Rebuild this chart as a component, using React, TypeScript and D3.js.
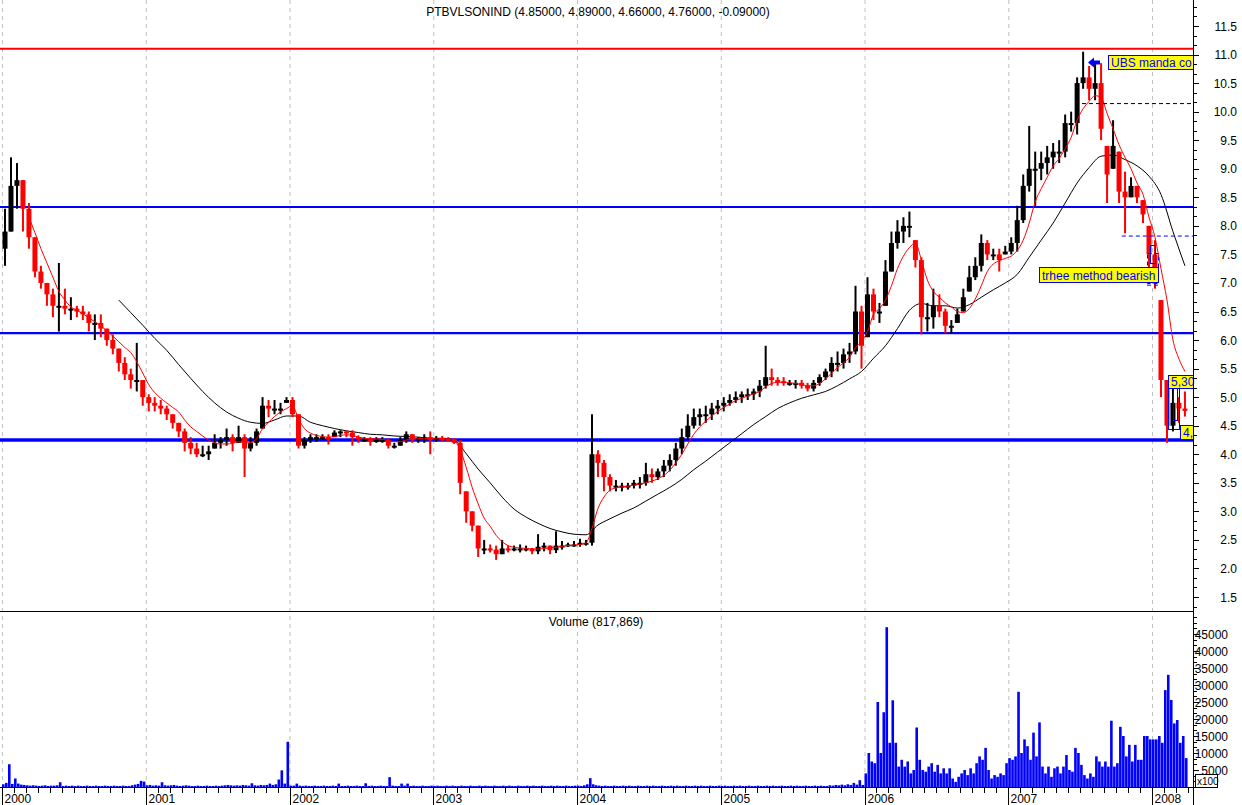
import React from 'react';
import * as d3 from 'd3';

// ---------- DATA (semi-monthly periods starting Jan 2000) ----------
const PERIODS_PER_YEAR = 24;
const START_YEAR = 2000;
const END_YEAR = 2008;
const TITLE = 'PTBVLSONIND (4.85000, 4.89000, 4.66000, 4.76000, -0.09000)';
const VOL_TITLE = 'Volume (817,869)';
const YEAR_LABELS = ['2000', '2001', '2002', '2003', '2004', '2005', '2006', '2007', '2008'];
const PRICE_TICKS = [1.5, 2.0, 2.5, 3.0, 3.5, 4.0, 4.5, 5.0, 5.5, 6.0, 6.5, 7.0, 7.5, 8.0, 8.5, 9.0, 9.5, 10.0, 10.5, 11.0, 11.5];
const VOL_TICKS = [5000, 10000, 15000, 20000, 25000, 30000, 35000, 40000, 45000];

const high = [
  8.3, 9.2, 9.1, 8.8, 8.4, 7.8, 7.3, 7.0, 6.9, 7.35, 6.9, 6.75, 6.6, 6.6, 6.5, 6.45, 6.45, 6.2, 6.1, 5.85, 5.7, 5.5, 5.95, 5.3,
  5.05, 5.0, 4.95, 4.85, 4.7, 4.55, 4.45, 4.3, 4.2, 4.15, 4.15, 4.35, 4.3, 4.45, 4.35, 4.5, 4.35, 4.3, 4.45, 5.0, 4.95, 4.95, 4.9, 5.0,
  5.0, 4.7, 4.3, 4.35, 4.35, 4.35, 4.35, 4.42, 4.42, 4.42, 4.42, 4.33, 4.3, 4.3, 4.3, 4.3, 4.27, 4.2, 4.3, 4.4, 4.35, 4.3, 4.35, 4.4,
  4.32, 4.32, 4.3, 4.28, 4.25, 3.35, 3.0, 2.75, 2.5, 2.42, 2.4, 2.5, 2.4, 2.4, 2.42, 2.4, 2.36, 2.6, 2.45, 2.4, 2.65, 2.48, 2.45, 2.48,
  2.52, 2.5, 4.7, 4.07, 3.9, 3.65, 3.55, 3.5, 3.5, 3.55, 3.6, 3.85, 3.75, 3.75, 3.9, 4.0, 4.2, 4.45, 4.7, 4.8, 4.8, 4.85, 4.9, 4.95,
  5.0, 5.05, 5.1, 5.1, 5.15, 5.15, 5.3, 5.9, 5.5, 5.35, 5.35, 5.3, 5.3, 5.3, 5.25, 5.3, 5.4, 5.5, 5.7, 5.8, 5.85, 5.95, 6.95, 6.6,
  7.1, 6.9, 6.65, 7.4, 7.9, 8.1, 8.15, 8.25, 7.75, 7.45, 6.65, 6.9, 6.8, 6.55, 6.35, 6.55, 6.9, 7.3, 7.45, 7.85, 7.75, 7.6, 7.6, 7.65,
  7.8, 8.35, 8.9, 9.75, 9.3, 9.3, 9.4, 9.45, 9.5, 9.95, 10.0, 10.6, 11.05, 10.8, 10.85, 10.85, 9.4, 9.85, 9.3, 8.95, 8.85, 8.7, 8.45, 8.0,
  7.75, 6.7, 5.3, 5.15, 5.0, 5.1,
];
const low = [
  7.3, 7.9, 8.3, 7.9, 7.6, 7.1, 6.9, 6.6, 6.4, 6.15, 6.45, 6.35, 6.4, 6.35, 6.15, 6.0, 6.05, 5.9, 5.75, 5.45, 5.3, 5.15, 5.1, 4.85,
  4.75, 4.75, 4.7, 4.6, 4.45, 4.3, 4.05, 4.0, 3.95, 3.95, 3.9, 4.1, 4.1, 4.15, 4.05, 4.2, 3.6, 4.05, 4.15, 4.45, 4.65, 4.7, 4.7, 4.9,
  4.65, 4.1, 4.1, 4.2, 4.22, 4.25, 4.17, 4.3, 4.3, 4.3, 4.15, 4.2, 4.22, 4.15, 4.2, 4.2, 4.1, 4.1, 4.15, 4.2, 4.2, 4.2, 4.2, 4.0,
  4.22, 4.22, 4.22, 4.18, 3.3, 2.8, 2.65, 2.2, 2.25, 2.28, 2.15, 2.25, 2.28, 2.3, 2.28, 2.3, 2.25, 2.25, 2.3, 2.25, 2.27, 2.33, 2.38, 2.38,
  2.38, 2.4, 2.4, 3.6, 3.35, 3.35, 3.35, 3.35, 3.38, 3.4, 3.4, 3.45, 3.5, 3.55, 3.6, 3.7, 3.8, 4.0, 4.25, 4.45, 4.5, 4.55, 4.6, 4.7,
  4.75, 4.85, 4.9, 4.9, 4.95, 4.95, 5.0, 5.15, 5.2, 5.2, 5.2, 5.2, 5.15, 5.15, 5.1, 5.1, 5.2, 5.3, 5.35, 5.45, 5.5, 5.6, 5.75, 5.5,
  6.05, 6.35, 6.3, 6.6, 7.2, 7.6, 7.7, 7.8, 7.27, 6.1, 6.15, 6.2, 6.4, 6.12, 6.12, 6.3, 6.5, 6.85, 7.05, 7.2, 7.4, 7.4, 7.2, 7.5,
  7.5, 7.55, 8.05, 8.6, 8.35, 8.8, 8.9, 9.0, 9.1, 9.2, 9.65, 9.6, 10.4, 10.2, 10.2, 9.5, 8.4, 9.0, 8.4, 7.87, 8.5, 8.4, 8.05, 7.25,
  6.9, 5.0, 4.2, 4.4, 4.55, 4.66,
];
const close = [
  7.9, 8.7, 8.8, 8.3, 7.8, 7.2, 7.0, 6.8, 6.6, 6.6, 6.55, 6.55, 6.5, 6.45, 6.3, 6.3, 6.2, 6.0, 5.85, 5.6, 5.4, 5.3, 5.3, 5.0,
  4.9, 4.85, 4.8, 4.7, 4.55, 4.4, 4.2, 4.1, 4.0, 4.0, 4.05, 4.2, 4.25, 4.3, 4.2, 4.3, 4.1, 4.2, 4.4, 4.85, 4.8, 4.8, 4.8, 4.95,
  4.7, 4.15, 4.25, 4.3, 4.3, 4.3, 4.28, 4.38, 4.4, 4.38, 4.3, 4.26, 4.26, 4.25, 4.25, 4.25, 4.15, 4.15, 4.25, 4.35, 4.25, 4.28, 4.3, 4.25,
  4.28, 4.27, 4.26, 4.2, 3.5, 3.0, 2.75, 2.35, 2.35, 2.33, 2.25, 2.35, 2.33, 2.35, 2.35, 2.35, 2.3, 2.38, 2.4, 2.32, 2.4, 2.4, 2.42, 2.42,
  2.45, 2.45, 4.0, 3.85, 3.6, 3.45, 3.45, 3.45, 3.45, 3.5, 3.5, 3.65, 3.6, 3.7, 3.8, 3.9, 4.1, 4.3, 4.5, 4.65, 4.7, 4.7, 4.8, 4.85,
  4.9, 4.95, 5.0, 5.05, 5.05, 5.1, 5.2, 5.35, 5.3, 5.28, 5.25, 5.25, 5.25, 5.2, 5.15, 5.25, 5.35, 5.45, 5.6, 5.6, 5.75, 5.8, 6.5, 5.9,
  6.8, 6.5, 6.5, 7.2, 7.7, 7.9, 8.0, 8.0, 7.4, 6.4, 6.4, 6.6, 6.5, 6.25, 6.25, 6.45, 6.75, 7.1, 7.3, 7.7, 7.5, 7.5, 7.4, 7.55,
  7.7, 8.1, 8.7, 9.0, 9.0, 9.1, 9.2, 9.3, 9.3, 9.8, 9.8, 10.5, 10.6, 10.4, 10.5, 9.7, 8.9, 9.4, 8.6, 8.5, 8.7, 8.5, 8.2, 7.5,
  7.0, 5.3, 4.5, 4.9, 4.8, 4.76,
];
const FIRST_OPEN = 7.6;

// short moving average (red), starting at period 4
const RED_MA_START = 4;
const redMA = [
  8.15, 7.88, 7.6, 7.35, 7.1, 6.85, 6.7, 6.58, 6.52, 6.46, 6.39, 6.32, 6.25, 6.16, 6.07, 5.97, 5.87, 5.78, 5.62, 5.42,
  5.22, 5.08, 4.98, 4.9, 4.82, 4.74, 4.6, 4.48, 4.4, 4.32, 4.25, 4.2, 4.18, 4.18, 4.19, 4.22, 4.2, 4.2, 4.27, 4.45, 4.56, 4.66, 4.74, 4.8,
  4.85, 4.62, 4.45, 4.37, 4.33, 4.31, 4.3, 4.31, 4.33, 4.34, 4.33, 4.3, 4.28, 4.27, 4.27, 4.26, 4.24, 4.22, 4.22, 4.25, 4.26, 4.27, 4.28, 4.27,
  4.27, 4.27, 4.27, 4.24, 4.08, 3.77, 3.42, 3.13, 2.88, 2.74, 2.58, 2.47, 2.4, 2.37, 2.36, 2.35, 2.34, 2.34, 2.35, 2.36, 2.37, 2.39, 2.4, 2.41,
  2.42, 2.45, 2.7, 3.05, 3.25, 3.37, 3.41, 3.43, 3.44, 3.46, 3.48, 3.5, 3.53, 3.57, 3.63, 3.72, 3.85, 4.0, 4.18, 4.35, 4.48, 4.58, 4.67, 4.75,
  4.82, 4.88, 4.94, 4.98, 5.02, 5.06, 5.1, 5.18, 5.24, 5.26, 5.26, 5.25, 5.24, 5.22, 5.2, 5.2, 5.24, 5.32, 5.42, 5.52, 5.6, 5.7, 5.87, 5.98,
  6.15, 6.45, 6.55, 6.7, 6.95, 7.25, 7.47, 7.62, 7.7, 7.4, 7.05, 6.85, 6.75, 6.65, 6.58, 6.5, 6.48, 6.55, 6.72, 6.95, 7.2, 7.33, 7.39, 7.43,
  7.47, 7.57, 7.75, 8.05, 8.42, 8.65, 8.85, 9.05, 9.18, 9.35, 9.55, 9.85, 10.05, 10.18, 10.28, 10.25, 9.97, 9.7, 9.42, 9.2, 9.0, 8.75, 8.55, 8.15,
  7.8, 7.25, 6.7, 6.0, 5.67, 5.45,
];

// long moving average (black), every 2nd period starting at period 19
const BLACK_MA_START = 19;
const BLACK_MA_STEP = 2;
const blackMA = [
  6.7, 6.48, 6.26, 6.03, 5.82, 5.57, 5.33, 5.1, 4.9, 4.74,
  4.63, 4.56, 4.54, 4.6, 4.67, 4.67, 4.56, 4.5, 4.45, 4.41,
  4.38, 4.35, 4.34, 4.32, 4.31, 4.3, 4.28, 4.28, 4.25, 4.01,
  3.74, 3.5, 3.25, 3.04, 2.9, 2.79, 2.7, 2.64, 2.6, 2.59,
  2.76, 2.87, 2.97, 3.06, 3.18, 3.3, 3.42, 3.56, 3.73, 3.88,
  4.04, 4.2, 4.36, 4.52, 4.66, 4.8, 4.9, 4.98, 5.04, 5.1,
  5.2, 5.32, 5.45, 5.68, 5.9, 6.2, 6.52, 6.64, 6.6, 6.6,
  6.56, 6.62, 6.75, 6.88, 7.0, 7.15, 7.45, 7.75, 8.05, 8.4,
  8.75, 9.02, 9.22, 9.24, 9.16, 9.05, 8.87, 8.55, 7.9, 7.3,
];

// weekly volume (x100 units), 48 weeks per year
const WEEKS_PER_YEAR = 48;
const volume = [
  // 2000
  800, 1200, 6700, 900, 2500, 1000, 700, 600, 500, 400, 500, 400, 300, 400, 500, 300, 400, 400, 500, 1400, 300, 400, 300, 400,
  300, 400, 300, 300, 400, 300, 300, 400, 300, 300, 400, 300, 300, 400, 300, 300, 400, 300, 300, 500, 700, 900, 1800, 1600,
  // 2001
  500, 600, 400, 500, 400, 1400, 500, 400, 500, 600, 400, 300, 400, 500, 400, 300, 300, 400, 300, 300, 400, 300, 300, 400,
  300, 400, 500, 600, 500, 400, 500, 400, 600, 500, 400, 1100, 500, 400, 600, 500, 600, 1000, 600, 800, 2200, 4900, 1000, 13300,
  // 2002
  400, 400, 1000, 400, 300, 400, 300, 300, 400, 300, 300, 400, 300, 300, 400, 300, 1000, 300, 300, 400, 300, 300, 400, 300,
  300, 1100, 300, 400, 300, 300, 400, 300, 300, 2900, 400, 300, 300, 1000, 400, 1000, 300, 400, 300, 300, 400, 300, 300, 400,
  // 2003
  300, 400, 300, 300, 400, 300, 400, 300, 300, 400, 300, 300, 400, 300, 300, 400, 300, 400, 300, 300, 400, 300, 300, 400,
  300, 400, 300, 300, 400, 300, 300, 400, 300, 400, 300, 300, 400, 300, 300, 400, 300, 400, 300, 300, 400, 300, 300, 400,
  // 2004
  400, 300, 500, 800, 2600, 800, 500, 400, 300, 400, 300, 300, 400, 300, 300, 400, 300, 400, 300, 300, 400, 300, 300, 400,
  300, 400, 300, 300, 400, 300, 300, 400, 300, 400, 300, 300, 400, 300, 300, 400, 300, 400, 300, 300, 400, 300, 300, 400,
  // 2005
  300, 400, 300, 300, 400, 300, 400, 300, 300, 400, 300, 300, 400, 300, 300, 400, 300, 400, 300, 300, 400, 300, 300, 400,
  300, 400, 300, 300, 400, 300, 300, 400, 300, 400, 300, 300, 500, 400, 600, 500, 700, 500, 800, 600, 1200, 700, 2000, 600,
  // 2006
  4000, 10000, 7500, 7000, 25000, 10000, 22000, 47000, 13000, 25500, 13000, 6000, 8000, 6000, 7500, 4000, 5000, 17500, 8000, 5000, 4500, 6000, 7000, 4500,
  6500, 4000, 5500, 4000, 5500, 2500, 1500, 3000, 4000, 5000, 3500, 5500, 4000, 7000, 9000, 8000, 11500, 5000, 2500, 3500, 3000, 4000, 3500, 7000,
  // 2007
  8500, 8000, 9000, 28000, 10000, 14000, 12000, 8000, 16000, 9000, 19000, 6000, 4000, 6000, 3000, 5500, 6000, 4000, 6000, 9400, 5000, 4500, 11500, 10000,
  6500, 3500, 2500, 4000, 3000, 9000, 7500, 6000, 7500, 6000, 19500, 6000, 7000, 17700, 15000, 9000, 12400, 7500, 12400, 8000, 8000, 15000, 15000, 14000,
  // 2008
  14000, 14000, 15000, 13000, 28500, 33000, 25600, 18700, 19700, 13000, 15000, 8500,
];

// annotations
const RED_LEVEL = 11.1;
const BLUE_LEVELS = [8.33, 6.12, 4.25];
const DASH_BLACK = { v: 10.15, t0: 2007.513 };
const DASH_BLUE = { v: 7.83, t0: 2007.79 };
const DASH_BLUE_SMALL = { v: 6.97, t0: 2007.965, t1: 2008.05 };

// ---------- LAYOUT ----------
const W = 1242;
const H = 805;
const PLOT_R = 1193;
const PANEL_SPLIT = 611;
const AXIS_Y = 787;
const FONT = "'Liberation Sans', Arial, sans-serif";

const x = d3.scaleLinear().domain([START_YEAR, END_YEAR]).range([2, 1152]);
const yP = d3.scaleLinear().domain([1.5, 11.5]).range([597, 26]);
const yV = d3.scaleLinear().domain([0, 45000]).range([AXIS_Y, 634]);

const tP = (p: number) => START_YEAR + (p + 0.5) / PERIODS_PER_YEAR;
const tW = (w: number) => START_YEAR + (w + 0.5) / WEEKS_PER_YEAR;

export default function App() {
  const bars = close.map((c, i) => {
    const o = i === 0 ? FIRST_OPEN : close[i - 1];
    const up = c >= o;
    const color = up ? '#000000' : '#ff0000';
    const top = Math.min(high[i], Math.max(o, c));
    const bot = Math.max(low[i], Math.min(o, c));
    const cx = x(tP(i));
    const yt = yP(top);
    const yb = yP(bot);
    return (
      <g key={'b' + i}>
        <line x1={cx} x2={cx} y1={yP(high[i])} y2={yP(low[i])} stroke={color} strokeWidth={2} />
        <rect x={cx - 2.5} y={yt} width={5} height={Math.max(2, yb - yt)} fill={color} />
      </g>
    );
  });

  const lineGen = d3.line<[number, number]>().x((d) => d[0]).y((d) => d[1]).curve(d3.curveMonotoneX);
  const redPts: [number, number][] = redMA.map((v, i) => [x(tP(i + RED_MA_START)), yP(v)]);
  const blackPts: [number, number][] = blackMA.map((v, i) => [x(tP(BLACK_MA_START + i * BLACK_MA_STEP)), yP(v)]);

  const volW = x(START_YEAR + 1 / WEEKS_PER_YEAR) - x(START_YEAR);
  const volBars = volume.map((v, i) => {
    const cx = x(tW(i));
    return <rect key={'v' + i} x={cx - volW / 2} y={yV(v)} width={volW - 0.4} height={AXIS_Y - yV(v)} fill="#0000ff" />;
  });

  const priceMinor: number[] = [];
  for (let k = 0; k <= 72; k++) {
    const v = 1.0 + k / 6;
    const yy = yP(v);
    if (yy > 2 && yy < PANEL_SPLIT - 2) priceMinor.push(yy);
  }
  const volMinor: number[] = [];
  for (let k = 0; k <= 30; k++) {
    const v = (k * 5000) / 3;
    const yy = yV(v);
    if (yy > PANEL_SPLIT + 2 && yy <= AXIS_Y) volMinor.push(yy);
  }
  const monthTicks: number[] = [];
  for (let yr = START_YEAR; yr <= END_YEAR; yr++) {
    for (let m = 0; m < 12; m++) {
      const t = yr + m / 12;
      if (t <= END_YEAR + 0.26) monthTicks.push(x(t));
    }
  }

  const blueBox = (bx: number, by: number, bw: number, bh: number, text: string, key: string, tx?: number) => (
    <g key={key}>
      <rect x={bx + 0.5} y={by + 0.5} width={bw} height={bh} fill="#ffff00" stroke="#0000ff" strokeWidth={1} />
      <text x={tx ?? bx + 3} y={by + bh - 2.5} fontSize={12} fill="#0000ff" fontFamily={FONT}>{text}</text>
    </g>
  );

  return (
    <svg width={W} height={H} style={{ position: 'absolute', left: 0, top: 0, background: '#fff' }} xmlns="http://www.w3.org/2000/svg">
      <rect x={0} y={0} width={W} height={H} fill="#ffffff" />
      {YEAR_LABELS.map((lab, i) => (
        <line key={'g' + lab} x1={x(START_YEAR + i) + 0.5} x2={x(START_YEAR + i) + 0.5} y1={0} y2={AXIS_Y} stroke="#c0c0c0" strokeWidth={1} strokeDasharray="4,4" />
      ))}

      <text x={598} y={16} textAnchor="middle" fontSize={12} fontFamily={FONT} fill="#000">{TITLE}</text>
      <text x={596} y={626} textAnchor="middle" fontSize={12} fontFamily={FONT} fill="#000">{VOL_TITLE}</text>

      <line x1={0} x2={PLOT_R} y1={yP(RED_LEVEL)} y2={yP(RED_LEVEL)} stroke="#ff0000" strokeWidth={2} />
      {BLUE_LEVELS.map((v, i) => (
        <line key={'bl' + i} x1={0} x2={PLOT_R} y1={yP(v)} y2={yP(v)} stroke="#0000ff" strokeWidth={i === 2 ? 3.5 : 2.2} />
      ))}

      <path d={lineGen(blackPts) || ''} fill="none" stroke="#000" strokeWidth={1} />
      {bars}
      <path d={lineGen(redPts) || ''} fill="none" stroke="#ff0000" strokeWidth={1} />

      <line x1={x(DASH_BLACK.t0)} x2={PLOT_R} y1={yP(DASH_BLACK.v) + 0.5} y2={yP(DASH_BLACK.v) + 0.5} stroke="#000" strokeWidth={1} strokeDasharray="4,3" />
      <line x1={x(DASH_BLUE.t0)} x2={PLOT_R} y1={yP(DASH_BLUE.v) + 0.5} y2={yP(DASH_BLUE.v) + 0.5} stroke="#0000ff" strokeWidth={1} strokeDasharray="4,3" />
      <line x1={x(DASH_BLUE_SMALL.t0)} x2={x(DASH_BLUE_SMALL.t1)} y1={yP(DASH_BLUE_SMALL.v) + 0.5} y2={yP(DASH_BLUE_SMALL.v) + 0.5} stroke="#0000ff" strokeWidth={1} strokeDasharray="4,3" />
      <rect x={1147.5} y={253.5} width={11} height={30} fill="none" stroke="#0000ff" strokeWidth={1} strokeDasharray="4,3" />
      <rect x={1150.5} y={245.5} width={5} height={18} fill="none" stroke="#0000ff" strokeWidth={1} />
      <rect x={1168.5} y={388.5} width={11} height={41} fill="none" stroke="#0000ff" strokeWidth={1} />
      <rect x={1173.5} y={388.5} width={4} height={32} fill="none" stroke="#0000ff" strokeWidth={1} />

      <polygon points="1088,62.5 1094,57.5 1094,60.5 1100,60.5 1100,64.5 1094,64.5 1094,67.5" fill="#0000ff" />

      {blueBox(1108, 55, 85, 14, 'UBS manda co', 'ubs', 1111)}
      {blueBox(1039, 267, 119, 15, 'trhee method bearish', 'thr', 1042)}
      {blueBox(1168, 375, 25, 13, '5,30', 'p53', 1171)}
      {blueBox(1180, 425, 13, 14, '4,', 'p4', 1183)}

      {volBars}

      <line x1={0} x2={PLOT_R} y1={PANEL_SPLIT + 0.5} y2={PANEL_SPLIT + 0.5} stroke="#000" strokeWidth={1} />
      <line x1={0} x2={PLOT_R} y1={AXIS_Y + 0.5} y2={AXIS_Y + 0.5} stroke="#000" strokeWidth={1} />
      <line x1={PLOT_R + 0.5} x2={PLOT_R + 0.5} y1={0} y2={H} stroke="#000" strokeWidth={1} />

      {priceMinor.map((yy, i) => (
        <line key={'pm' + i} x1={PLOT_R} x2={PLOT_R + 4} y1={Math.round(yy) + 0.5} y2={Math.round(yy) + 0.5} stroke="#000" strokeWidth={1} />
      ))}
      {PRICE_TICKS.map((v) => (
        <g key={'pt' + v}>
          <line x1={PLOT_R} x2={PLOT_R + 6} y1={Math.round(yP(v)) + 0.5} y2={Math.round(yP(v)) + 0.5} stroke="#000" strokeWidth={1} />
          <text x={1237} y={yP(v) + 4.5} textAnchor="end" fontSize={12} fontFamily={FONT} fill="#000">{v.toFixed(1)}</text>
        </g>
      ))}

      {volMinor.map((yy, i) => (
        <line key={'vm' + i} x1={PLOT_R} x2={PLOT_R + 4} y1={Math.round(yy) + 0.5} y2={Math.round(yy) + 0.5} stroke="#000" strokeWidth={1} />
      ))}
      {VOL_TICKS.map((v) => (
        <g key={'vt' + v}>
          <line x1={PLOT_R} x2={PLOT_R + 6} y1={Math.round(yV(v)) + 0.5} y2={Math.round(yV(v)) + 0.5} stroke="#000" strokeWidth={1} />
          <text x={1228} y={yV(v) + 4.5} textAnchor="end" fontSize={12} fontFamily={FONT} fill="#000">{v}</text>
        </g>
      ))}
      <rect x={1195.5} y={774.5} width={22} height={13} fill="#fff" stroke="#000" strokeWidth={1} />
      <text x={1197} y={785} fontSize={10} fontFamily={FONT} fill="#000">x100</text>

      {monthTicks.map((mx, i) => (
        <line key={'mt' + i} x1={Math.round(mx) + 0.5} x2={Math.round(mx) + 0.5} y1={AXIS_Y} y2={AXIS_Y + 6} stroke="#000" strokeWidth={1} />
      ))}
      {YEAR_LABELS.map((lab, i) => {
        const yx = Math.round(x(START_YEAR + i)) + 0.5;
        return (
          <g key={'yl' + lab}>
            <line x1={yx} x2={yx} y1={AXIS_Y} y2={H} stroke="#000" strokeWidth={1} />
            <text x={yx + 2} y={803} fontSize={12} fontFamily={FONT} fill="#000">{lab}</text>
          </g>
        );
      })}
    </svg>
  );
}
